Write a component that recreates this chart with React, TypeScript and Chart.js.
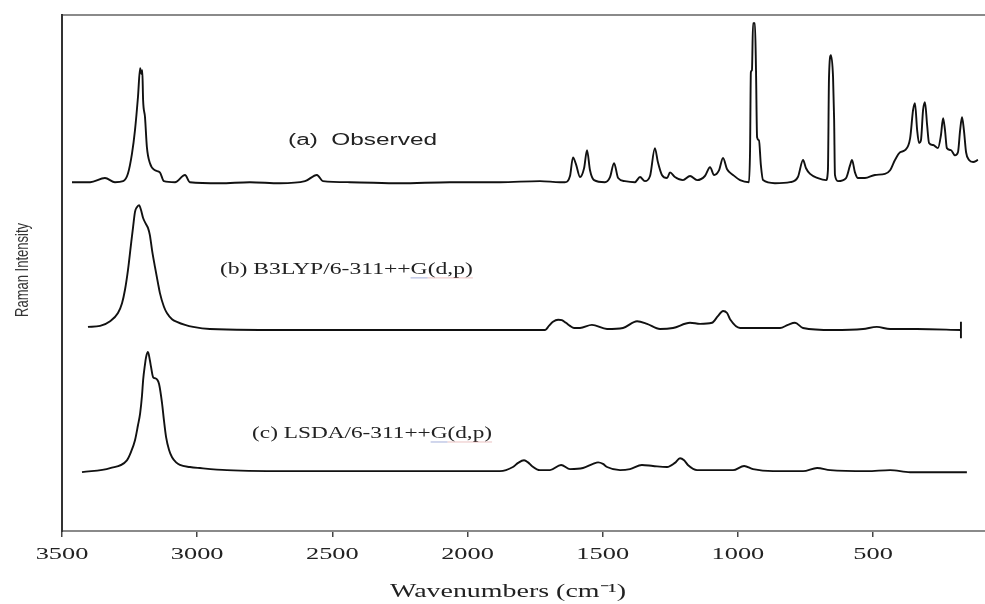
import React, { useEffect, useRef } from "react";
import { Chart, registerables } from "chart.js";

Chart.register(...registerables);

// ---- axes ----
const X_TICKS = [3500, 3000, 2500, 2000, 1500, 1000, 500];
const X_MAX = 3500;
const X_MIN = 86;
const Y_MIN = 0;
const Y_MAX = 100;

// ---- texts ----
const X_TITLE = "Wavenumbers (cm⁻¹)";
const Y_TITLE = "Raman Intensity";
const OBS_LABEL = "(a)  Observed";
const B3LYP_LABEL = "(b) B3LYP/6-311++G(d,p)";
const LSDA_LABEL = "(c) LSDA/6-311++G(d,p)";

// label anchors in data units [wavenumber, intensity]
const OBS_LABEL_AT = [2664, 75.6];
const B3LYP_LABEL_AT = [2916, 50.6];
const LSDA_LABEL_AT = [2797, 18.8];

// ---- vertical offsets of the stacked spectra ----
const OBS_OFFSET = 67.6;
const B3LYP_OFFSET = 38.95;
const LSDA_OFFSET = 11.6;

// ---- (a) observed ----
const obsWn = [
  3463, 3396, 3341, 3304, 3274, 3256, 3241, 3230, 3219, 3211, 3206, 3203, 3200, 3193, 3186, 3175,
  3156, 3138, 3123, 3082, 3045, 3027, 2916, 2805, 2694, 2601, 2557, 2535, 2435, 2250, 2065, 1880,
  1732, 1658, 1640, 1621, 1610, 1599, 1584, 1569, 1558, 1547, 1532, 1492, 1473, 1458, 1443, 1418,
  1381, 1362, 1344, 1325, 1307, 1296, 1281, 1262, 1251, 1233, 1203, 1177, 1151, 1122, 1103, 1088,
  1070, 1055, 1040, 1018, 992, 959, 955, 952, 948, 944, 937, 933, 929, 922, 915, 907,
  863, 807, 778, 759, 748, 733, 704, 674, 667, 663, 656, 648, 644, 641, 630, 600,
  585, 578, 567, 556, 530, 493, 456, 437, 419, 400, 382, 363, 352, 345, 337, 330,
  323, 315, 308, 300, 293, 278, 260, 249, 241, 234, 227, 212, 197, 186, 178, 171,
  164, 156, 145, 130, 112,
];
const obsInt = [
  0, 0, 0.8, 0, 0.2, 1.7, 5.6, 10.1, 16.5, 22.1, 21.0, 21.7, 15.9, 12.6, 6.8, 3.7,
  2.3, 1.9, 0.2, 0, 1.4, 0, -0.2, 0, -0.2, 0.2, 1.4, 0.2, 0, -0.2, 0, 0,
  0.2, 0, 0, 1.2, 4.8, 3.5, 1.0, 2.7, 6.2, 2.3, 0.4, 0, 1.0, 3.7, 0.8, 0.2,
  0, 1.0, 0.2, 1.2, 6.6, 3.9, 1.4, 0.8, 1.9, 1.0, 0.4, 1.2, 0.4, 1.2, 2.9, 1.4,
  2.3, 4.7, 2.5, 1.4, 0.4, 0, 6.2, 21.3, 21.7, 30.8, 30.8, 21.7, 8.7, 8.1, 3.3, 0.4,
  -0.2, 0, 1.0, 4.3, 2.7, 1.6, 0.8, 0.4, 2.3, 20.3, 24.6, 20.3, 12.0, 1.4, 0.2, 0.8,
  3.3, 4.3, 1.9, 0.8, 0.8, 1.4, 1.6, 2.3, 4.3, 5.8, 6.2, 8.5, 14.0, 15.3, 10.1, 7.6,
  8.1, 14.0, 15.5, 11.0, 7.6, 7.2, 6.6, 9.1, 12.4, 10.1, 6.6, 6.2, 5.2, 5.8, 10.1, 12.6,
  10.1, 5.8, 4.3, 3.9, 4.3,
];

// ---- (b) B3LYP/6-311++G(d,p) ----
const b3lypWn = [
  3404, 3359, 3322, 3293, 3278, 3267, 3256, 3245, 3237, 3230, 3223, 3215, 3208, 3200, 3189, 3182,
  3175, 3167, 3156, 3145, 3138, 3123, 3112, 3093, 3075, 3045, 3015, 2953, 2620, 2065, 1713, 1699,
  1684, 1665, 1651, 1636, 1621, 1606, 1584, 1540, 1484, 1425, 1373, 1336, 1288, 1240, 1177, 1140,
  1096, 1074, 1055, 1040, 1029, 992, 844, 815, 789, 759, 648, 537, 486, 437, 338, 175,
];
const b3lypInt = [
  0.6, 0.8, 1.7, 3.3, 5.2, 7.8, 11.6, 16.5, 20.0, 22.9, 23.8, 24.2, 23.3, 21.7, 20.5, 19.8,
  18.4, 15.5, 12.2, 9.1, 7.2, 4.5, 3.3, 2.1, 1.6, 1.0, 0.6, 0.2, 0, 0, 0, 0.8,
  1.6, 2.0, 1.9, 1.4, 0.8, 0.4, 0.4, 1.0, 0.2, 0.4, 1.7, 1.2, 0.2, 0.4, 1.4, 1.2,
  1.4, 2.7, 3.7, 3.3, 2.1, 0.4, 0.4, 1.0, 1.4, 0.4, 0, 0.2, 0.6, 0.2, 0.2, 0,
];
// end bar of the B3LYP trace
const b3lypEndWn = [175, 175];
const b3lypEndInt = [1.6, -1.6];

// ---- (c) LSDA/6-311++G(d,p) ----
const lsdaWn = [
  3426, 3322, 3260, 3245, 3230, 3219, 3211, 3204, 3200, 3193, 3189, 3182, 3175, 3171, 3163, 3156,
  3149, 3141, 3130, 3123, 3115, 3104, 3093, 3078, 3064, 3027, 2990, 2890, 2620, 2250, 1880, 1832,
  1813, 1791, 1776, 1762, 1732, 1695, 1654, 1621, 1573, 1536, 1517, 1499, 1484, 1436, 1399, 1355,
  1314, 1262, 1233, 1214, 1199, 1185, 1151, 1018, 977, 944, 870, 759, 707, 659, 522, 437,
  363, 278, 153,
];
const lsdaInt = [
  -0.2, 0.6, 2.1, 3.7, 6.0, 8.9, 11.2, 14.7, 17.6, 20.7, 22.1, 23.1, 21.5, 20.3, 18.2, 18.0,
  17.8, 16.9, 13.2, 9.9, 6.6, 4.1, 2.7, 1.7, 1.2, 0.8, 0.6, 0.2, 0, 0, 0, 0.8,
  1.6, 2.1, 1.7, 1.0, 0.2, 0.2, 1.2, 0.4, 0.6, 1.4, 1.7, 1.4, 0.8, 0.2, 0.4, 1.2,
  1.0, 0.8, 1.6, 2.5, 2.1, 1.2, 0.2, 0.2, 1.0, 0.4, 0, 0, 0.6, 0.2, 0, 0.2,
  -0.2, -0.2, -0.2,
];

const toPoints = (wn: number[], val: number[], offset: number) =>
  wn.map((x, i) => ({ x, y: val[i] + offset }));

function drawFitted(
  ctx: CanvasRenderingContext2D,
  text: string,
  x: number,
  y: number,
  font: string,
  width: number,
  align: "left" | "center",
  color: string
) {
  ctx.save();
  ctx.font = font;
  const w = ctx.measureText(text).width;
  const sx = width / w;
  ctx.translate(x, y);
  ctx.scale(sx, 1);
  ctx.fillStyle = color;
  ctx.textAlign = align;
  ctx.textBaseline = "middle";
  ctx.fillText(text, 0, 0);
  ctx.restore();
  return sx;
}

function drawScaled(
  ctx: CanvasRenderingContext2D,
  text: string,
  x: number,
  y: number,
  font: string,
  sx: number,
  color: string
) {
  ctx.save();
  ctx.font = font;
  ctx.translate(x, y);
  ctx.scale(sx, 1);
  ctx.fillStyle = color;
  ctx.textAlign = "center";
  ctx.textBaseline = "middle";
  ctx.fillText(text, 0, 0);
  ctx.restore();
}

// faint proofing underline under the basis-set suffix, as seen in the source figure
function underlineSuffix(
  ctx: CanvasRenderingContext2D,
  text: string,
  x: number,
  y: number,
  font: string,
  sx: number
) {
  ctx.save();
  ctx.font = font;
  const gStart = ctx.measureText(text.slice(0, text.indexOf("G("))).width * sx;
  const gW = ctx.measureText("G").width * sx;
  const rest = ctx.measureText("(d,p)").width * sx;
  ctx.lineWidth = 1;
  ctx.strokeStyle = "rgba(90,110,190,0.55)";
  ctx.beginPath();
  ctx.moveTo(x + gStart, y + 8);
  ctx.lineTo(x + gStart + gW, y + 8);
  ctx.stroke();
  ctx.strokeStyle = "rgba(210,120,120,0.45)";
  ctx.beginPath();
  ctx.moveTo(x + gStart + gW, y + 8);
  ctx.lineTo(x + gStart + gW + rest, y + 8);
  ctx.stroke();
  ctx.restore();
}

const textPlugin = {
  id: "spectraTexts",
  afterDraw(chart: any) {
    const ctx: CanvasRenderingContext2D = chart.ctx;
    const xs = chart.scales.x;
    const ys = chart.scales.y;
    const area = chart.chartArea;
    // tick labels
    for (const t of xs.ticks) {
      const px = xs.getPixelForValue(t.value);
      drawScaled(ctx, String(t.value), px, area.bottom + 24, '17px "Liberation Serif"', 1.55, "#222");
    }
    // x title
    drawFitted(ctx, X_TITLE, 508, area.bottom + 61, '19px "Liberation Serif"', 236, "center", "#222");
    // y title
    ctx.save();
    ctx.translate(23, 270);
    ctx.rotate(-Math.PI / 2);
    ctx.font = '19px "Liberation Sans"';
    const yw = ctx.measureText(Y_TITLE).width;
    ctx.scale(94 / yw, 1);
    ctx.fillStyle = "#333";
    ctx.textAlign = "center";
    ctx.textBaseline = "middle";
    ctx.fillText(Y_TITLE, 0, 0);
    ctx.restore();
    // series labels
    drawFitted(ctx, OBS_LABEL, xs.getPixelForValue(OBS_LABEL_AT[0]), ys.getPixelForValue(OBS_LABEL_AT[1]),
      '16px "Liberation Sans"', 149, "left", "#222");
    const serif = '16px "Liberation Serif"';
    const bx = xs.getPixelForValue(B3LYP_LABEL_AT[0]);
    const by = ys.getPixelForValue(B3LYP_LABEL_AT[1]);
    const bsx = drawFitted(ctx, B3LYP_LABEL, bx, by, serif, 253, "left", "#222");
    underlineSuffix(ctx, B3LYP_LABEL, bx, by, serif, bsx);
    const cx = xs.getPixelForValue(LSDA_LABEL_AT[0]);
    const cy = ys.getPixelForValue(LSDA_LABEL_AT[1]);
    const csx = drawFitted(ctx, LSDA_LABEL, cx, cy, serif, 240, "left", "#222");
    underlineSuffix(ctx, LSDA_LABEL, cx, cy, serif, csx);
  },
};

export default function App() {
  const ref = useRef<HTMLCanvasElement | null>(null);
  useEffect(() => {
    if (!ref.current) return;
    const lineStyle = {
      borderColor: "#111",
      borderWidth: 1.9,
      pointRadius: 0,
      fill: false,
      cubicInterpolationMode: "monotone" as const,
    };
    const chart = new Chart(ref.current, {
      type: "line",
      data: {
        datasets: [
          { label: "Observed", data: toPoints(obsWn, obsInt, OBS_OFFSET), ...lineStyle },
          { label: "B3LYP", data: toPoints(b3lypWn, b3lypInt, B3LYP_OFFSET), ...lineStyle },
          { label: "B3LYP end", data: toPoints(b3lypEndWn, b3lypEndInt, B3LYP_OFFSET), ...lineStyle, cubicInterpolationMode: "default" as const },
          { label: "LSDA", data: toPoints(lsdaWn, lsdaInt, LSDA_OFFSET), ...lineStyle },
        ],
      },
      options: {
        responsive: false,
        animation: false,
        layout: { padding: 0 },
        plugins: { legend: { display: false }, tooltip: { enabled: false } },
        scales: {
          x: {
            type: "linear",
            position: "bottom",
            reverse: true,
            min: X_MIN,
            max: X_MAX,
            afterBuildTicks: (s: any) => {
              s.ticks = X_TICKS.map((v) => ({ value: v }));
            },
            afterFit: (s: any) => {
              s.height = 73;
            },
            ticks: { display: false },
            grid: { display: true, drawOnChartArea: false, drawTicks: true, tickLength: 6, color: "#444", lineWidth: 1.5 },
            border: { display: true, color: "#8a8a8a", width: 2 },
          },
          xTop: {
            type: "linear",
            position: "top",
            reverse: true,
            min: X_MIN,
            max: X_MAX,
            afterFit: (s: any) => {
              s.height = 15;
            },
            ticks: { display: false },
            grid: { display: false },
            border: { display: true, color: "#8a8a8a", width: 2 },
          },
          y: {
            type: "linear",
            min: Y_MIN,
            max: Y_MAX,
            afterFit: (s: any) => {
              s.width = 62;
            },
            ticks: { display: false },
            grid: { display: false },
            border: { display: true, color: "#333", width: 2 },
          },
        },
      },
      plugins: [textPlugin],
    });
    return () => chart.destroy();
  }, []);
  return (
    <div style={{ position: "fixed", left: 0, top: 0, width: 985, height: 604, background: "#fff" }}>
      <canvas ref={ref} width={985} height={604} />
    </div>
  );
}
